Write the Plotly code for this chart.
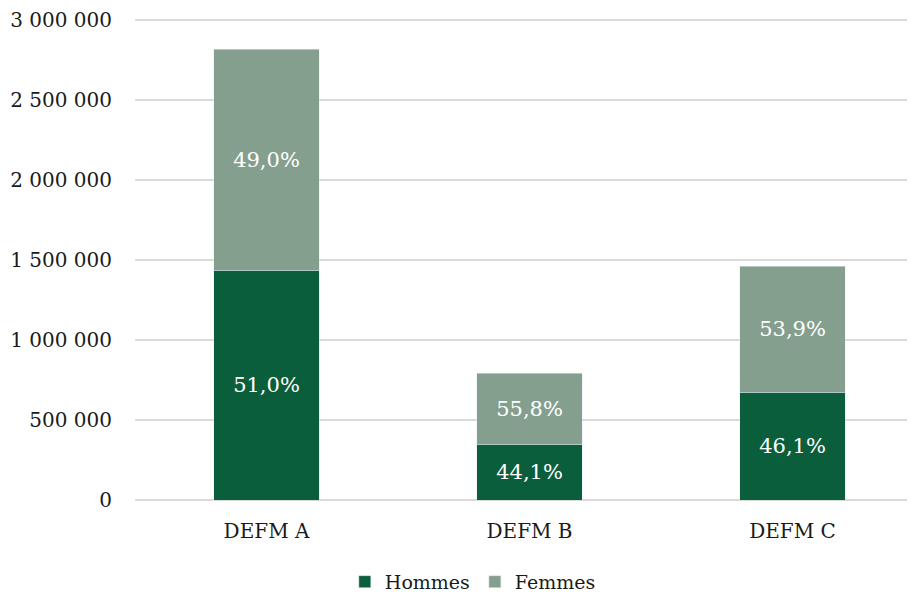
import plotly.graph_objects as go

# Data
categories = ["DEFM A", "DEFM B", "DEFM C"]
hommes = [1436000, 350000, 674000]
femmes = [1380000, 443000, 788000]
hommes_pct = ["51,0%", "44,1%", "46,1%"]
femmes_pct = ["49,0%", "55,8%", "53,9%"]
y_ticks = [0, 500000, 1000000, 1500000, 2000000, 2500000, 3000000]

DARK = "#0B5E3C"
LIGHT = "#859F8F"
INK = "#1A1A1A"
GRID = "#D9D9D9"
FONT = "DejaVu Serif"

fig = go.Figure()
fig.add_trace(go.Bar(
    name="Hommes", x=categories, y=hommes, text=hommes_pct,
    marker={"color": DARK}, textposition="inside", insidetextanchor="middle",
    textfont={"color": "white", "size": 21, "family": FONT},
))
fig.add_trace(go.Bar(
    name="Femmes", x=categories, y=femmes, text=femmes_pct,
    marker={"color": LIGHT}, textposition="inside", insidetextanchor="middle",
    textfont={"color": "white", "size": 21, "family": FONT},
))

# The page body adds an 8px offset, so margins are trimmed to compensate.
fig.update_layout(
    width=915, height=597,
    barmode="stack", bargap=0.6,
    separators=", ",
    font={"family": FONT, "size": 20, "color": INK},
    paper_bgcolor="white", plot_bgcolor="white",
    margin={"l": 127, "r": 0, "t": 8, "b": 105, "autoexpand": False},
    showlegend=True,
    legend={
        "orientation": "h", "x": 0.508, "xref": "container", "xanchor": "center",
        "y": 0.007, "yref": "container", "yanchor": "bottom",
        "font": {"size": 19, "family": FONT, "color": INK},
        "itemwidth": 30, "traceorder": "normal",
    },
    xaxis={
        "range": [-0.5, 2.496], "showgrid": False, "showline": False,
        "ticks": "", "tickfont": {"size": 20}, "automargin": False,
        "ticklabelstandoff": 17,
    },
    yaxis={
        "range": [0, 3025000], "tickvals": y_ticks, "tickformat": ",d",
        "gridcolor": GRID, "gridwidth": 1.5,
        "zeroline": True, "zerolinecolor": GRID, "zerolinewidth": 1.5,
        "showline": False, "ticks": "", "ticklabelstandoff": 22,
        "tickfont": {"size": 20}, "automargin": False,
    },
)

fig.write_html("out.html")
